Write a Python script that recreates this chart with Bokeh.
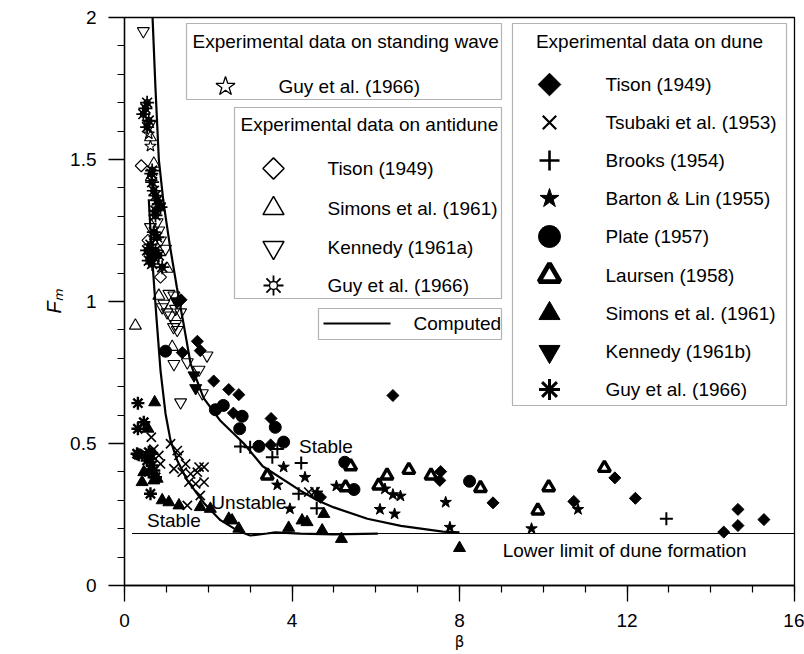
import math
from bokeh.plotting import figure
from bokeh.models import FixedTicker, Label, BoxAnnotation, Range1d, NumeralTickFormatter
from bokeh.embed import file_html
from bokeh.resources import INLINE

FONT = "Liberation Sans"

# ---------------- axes ----------------
X_RANGE = (0, 16)
Y_RANGE = (0, 2)
X_TICKS = [0, 4, 8, 12, 16]
X_MINOR = list(range(0, 17))
Y_TICKS = [0, 0.5, 1, 1.5, 2]
Y_MINOR = [round(0.1 * i, 1) for i in range(21)]
X_TITLE = "β"
Y_TITLE = "Fₘ"

# ---------------- computed curves ----------------
RIGHT_B = [0.67, 0.74, 0.82, 0.93, 1.08, 1.25, 1.40, 1.58, 1.89, 2.29, 2.85, 3.3, 4.2, 4.6, 5.0, 5.8, 6.6, 7.6, 8.0]
RIGHT_F = [2.0, 1.75, 1.5, 1.35, 1.2, 1.05, 0.93, 0.78, 0.66, 0.58, 0.50, 0.42, 0.334, 0.30, 0.275, 0.235, 0.21, 0.19, 0.187]
LEFT_B = [0.58, 0.64, 0.71, 0.77, 0.86, 0.98, 1.1, 1.26, 1.5, 1.9, 2.29, 2.69, 3.0, 3.4, 3.6, 4.2, 5.0, 6.05]
LEFT_F = [1.36, 1.2, 1.05, 0.93, 0.757, 0.605, 0.51, 0.44, 0.37, 0.29, 0.23, 0.194, 0.176, 0.183, 0.187, 0.183, 0.18, 0.183]
LOWER_LIMIT_B = [0.18, 16]
LOWER_LIMIT_F = [0.183, 0.183]

# ---------------- standing wave ----------------
GUY_S_B = [0.62, 0.58]
GUY_S_F = [1.547, 1.59]

# ---------------- antidune ----------------
TISON_A_B = [0.40, 0.56, 0.70, 0.86]
TISON_A_F = [1.478, 1.215, 1.170, 1.086]
SIMONS_A_B = [0.26, 0.62, 0.70, 0.64, 0.74, 1.02, 0.82, 1.14]
SIMONS_A_F = [0.915, 1.578, 1.485, 1.438, 1.23, 1.115, 1.02, 0.84]
KENNEDY_A_B = [0.45, 0.60, 0.78, 0.62, 0.82, 0.86, 0.98, 1.06, 1.18, 1.26, 0.94, 0.90, 1.02, 1.10, 1.22,
               1.34, 1.22, 1.17, 1.26, 1.97, 1.18, 1.50, 1.78, 1.86, 1.34]
KENNEDY_A_F = [1.952, 1.623, 1.279, 1.262, 1.25, 1.215, 1.186, 1.027, 1.021, 1.0, 0.992, 0.98, 0.962, 0.951, 0.921,
               0.962, 0.974, 0.91, 0.90, 0.81, 0.78, 0.786, 0.76, 0.677, 0.645]
GUY_A_B = [0.54, 0.50, 0.45, 0.58, 0.54, 0.66, 0.64, 0.66, 0.70, 0.74, 0.78, 0.82, 0.86, 0.74, 0.74, 0.70, 0.78,
           0.54, 0.62, 0.70, 0.58, 0.66, 0.74, 0.82, 0.90, 0.62]
GUY_A_F = [1.70, 1.68, 1.66, 1.637, 1.614, 1.461, 1.45, 1.42, 1.39, 1.373, 1.356, 1.344, 1.332, 1.32, 1.303, 1.244,
           1.226, 1.18, 1.168, 1.156, 1.144, 1.132, 1.18, 1.162, 1.121, 1.20]

# ---------------- dune ----------------
TISON_D_B = [1.35, 1.38, 1.74, 1.81, 2.13, 2.49, 2.73, 2.60, 3.50, 3.49, 4.68, 6.41, 7.55, 7.53, 8.8, 10.73, 11.71,
             12.2, 14.31, 14.65, 14.65, 15.27]
TISON_D_F = [1.006, 0.82, 0.86, 0.827, 0.72, 0.69, 0.672, 0.607, 0.588, 0.495, 0.311, 0.669, 0.401, 0.37, 0.291,
             0.296, 0.379, 0.307, 0.188, 0.268, 0.211, 0.232]
TSUBAKI_B = [0.64, 0.70, 0.82, 0.86, 1.10, 1.26, 1.30, 1.18, 1.46, 1.38, 1.58, 1.54, 1.74, 1.78, 1.90, 1.70, 1.90,
             1.81, 1.50, 4.40, 4.55]
TSUBAKI_F = [0.522, 0.48, 0.458, 0.428, 0.499, 0.475, 0.458, 0.411, 0.428, 0.399, 0.393, 0.364, 0.399, 0.417, 0.417,
             0.358, 0.364, 0.317, 0.282, 0.329, 0.33]
BROOKS_B = [2.77, 3.0, 3.65, 3.53, 4.22, 4.16, 4.59, 12.94]
BROOKS_F = [0.489, 0.487, 0.481, 0.452, 0.431, 0.323, 0.272, 0.235]
BARTON_B = [3.8, 4.31, 3.65, 3.95, 4.6, 5.06, 6.22, 6.41, 6.59, 6.1, 6.45, 7.67, 7.77, 9.72, 10.83]
BARTON_F = [0.417, 0.381, 0.354, 0.27, 0.326, 0.35, 0.34, 0.32, 0.315, 0.268, 0.252, 0.293, 0.205, 0.2, 0.268]
PLATE_B = [0.98, 2.17, 2.36, 2.81, 2.75, 3.21, 3.60, 3.80, 5.26, 5.48, 8.24]
PLATE_F = [0.825, 0.619, 0.634, 0.596, 0.552, 0.49, 0.557, 0.505, 0.434, 0.338, 0.367]
LAURSEN_B = [3.41, 5.4, 5.28, 6.07, 6.27, 6.79, 7.32, 8.5, 9.87, 10.13, 11.46]
LAURSEN_F = [0.387, 0.42, 0.346, 0.352, 0.387, 0.407, 0.387, 0.343, 0.264, 0.346, 0.414]
SIMONS_D_B = [0.72, 0.56, 0.46, 0.42, 0.70, 0.78, 0.90, 1.06, 1.30, 1.81, 2.05, 2.49, 2.57, 2.73, 3.92, 4.24, 4.36,
              4.72, 4.76, 5.18, 8.0]
SIMONS_D_F = [0.645, 0.552, 0.399, 0.364, 0.37, 0.376, 0.30, 0.293, 0.282, 0.276, 0.27, 0.235, 0.229, 0.2, 0.203,
              0.229, 0.223, 0.194, 0.252, 0.164, 0.132]
KENNEDY_B_B = [1.24, 1.66, 1.70]
KENNEDY_B_F = [1.0, 0.74, 0.695]
GUY_D_B = [0.32, 0.46, 0.32, 0.30, 0.58, 0.62, 0.66, 0.70, 0.74, 0.62, 0.54, 0.58, 0.34, 0.62]
GUY_D_F = [0.642, 0.575, 0.552, 0.464, 0.469, 0.446, 0.423, 0.405, 0.381, 0.323, 0.44, 0.40, 0.46, 0.464]

# ---------------- annotations ----------------
REGION_TEXTS = [("Stable", 4.81, 0.491), ("Unstable", 2.97, 0.294), ("Stable", 1.18, 0.229)]
LIMIT_TEXT = ("Lower limit of dune formation", 9.03, 0.123)

LEG_STAND_TITLE = "Experimental data on standing wave"
LEG_STAND_ITEMS = ["Guy et al. (1966)"]
LEG_ANTI_TITLE = "Experimental data on antidune"
LEG_ANTI_ITEMS = ["Tison (1949)", "Simons et al. (1961)", "Kennedy (1961a)", "Guy et al. (1966)"]
LEG_COMP = "Computed"
LEG_DUNE_TITLE = "Experimental data on dune"
LEG_DUNE_ITEMS = ["Tison (1949)", "Tsubaki et al. (1953)", "Brooks (1954)", "Barton & Lin (1955)", "Plate (1957)",
                  "Laursen (1958)", "Simons et al. (1961)", "Kennedy (1961b)", "Guy et al. (1966)"]

# ---------------- layout (page pixels of the frame) ----------------
W, H = 804, 654
FX0, FX1, FY0, FY1 = 124, 794, 585, 17


def bx(px):
    return X_RANGE[0] + (px - FX0) / (FX1 - FX0) * (X_RANGE[1] - X_RANGE[0])


def by(py):
    return Y_RANGE[0] + (FY0 - py) / (FY0 - FY1) * (Y_RANGE[1] - Y_RANGE[0])


p = figure(width=W, height=H, output_backend="svg", toolbar_location=None,
           x_range=Range1d(*X_RANGE), y_range=Range1d(*Y_RANGE),
           min_border_left=FX0, min_border_right=W - FX1, min_border_top=FY1, min_border_bottom=H - FY0)
p.grid.visible = False
p.outline_line_color = "black"
p.outline_line_width = 1.3
p.background_fill_color = "white"
p.border_fill_color = "white"

p.xaxis.ticker = FixedTicker(ticks=X_TICKS, minor_ticks=X_MINOR)
p.yaxis.ticker = FixedTicker(ticks=Y_TICKS, minor_ticks=Y_MINOR)
for ax in (p.xaxis, p.yaxis):
    ax.formatter = NumeralTickFormatter(format="0.[0]")
    ax.major_tick_out = 16
    ax.major_tick_in = 0
    ax.minor_tick_out = 7
    ax.minor_tick_in = 0
    ax.major_tick_line_width = 1.3
    ax.minor_tick_line_width = 1.2
    ax.axis_line_width = 1.3
    ax.axis_line_color = "black"
    ax.major_tick_line_color = "black"
    ax.minor_tick_line_color = "black"
    ax.major_label_text_font = FONT
    ax.major_label_text_font_size = "19px"
    ax.major_label_text_color = "black"
    ax.major_label_standoff = 12
    ax.axis_label_text_color = "black"

p.xaxis.axis_label = X_TITLE
p.xaxis.axis_label_text_font = "DejaVu Sans"
p.xaxis.axis_label_text_font_style = "normal"
p.xaxis.axis_label_text_font_size = "15px"
p.xaxis.axis_label_standoff = 3
p.yaxis.axis_label = Y_TITLE
p.yaxis.axis_label_text_font = FONT
p.yaxis.axis_label_text_font_style = "italic"
p.yaxis.axis_label_text_font_size = "20px"
p.yaxis.axis_label_standoff = 2

# curves
p.line(RIGHT_B, RIGHT_F, line_color="black", line_width=2.2)
p.line(LEFT_B, LEFT_F, line_color="black", line_width=2.2)
p.line(LOWER_LIMIT_B, LOWER_LIMIT_F, line_color="black", line_width=1)

K = "black"
# antidune (open)
p.scatter(TISON_A_B, TISON_A_F, marker="square", angle=math.pi / 4, size=8.5, fill_color=None, line_color=K, line_width=1.1)
p.scatter(SIMONS_A_B, SIMONS_A_F, marker="triangle", size=12, fill_color=None, line_color=K, line_width=1.1)
p.scatter(KENNEDY_A_B, KENNEDY_A_F, marker="inverted_triangle", size=12, fill_color=None, line_color=K, line_width=1.1)
p.scatter(GUY_A_B, GUY_A_F, marker="asterisk", size=14, line_color=K, line_width=1.7)
p.scatter(GUY_A_B, GUY_A_F, marker="circle", size=6, fill_color=None, line_color=K, line_width=1.3)
# standing wave
p.scatter(GUY_S_B, GUY_S_F, marker="star", size=12, fill_color=None, line_color=K, line_width=1.1)
# dune (filled)
p.scatter(TISON_D_B, TISON_D_F, marker="square", angle=math.pi / 4, size=8.5, fill_color=K, line_color=K)
p.scatter(TSUBAKI_B, TSUBAKI_F, marker="x", size=13, line_color=K, line_width=1.6)
p.scatter(BROOKS_B, BROOKS_F, marker="cross", size=13, line_color=K, line_width=2)
p.scatter(BARTON_B, BARTON_F, marker="star", size=12, fill_color=K, line_color=K)
p.scatter(PLATE_B, PLATE_F, marker="circle", size=12, fill_color=K, line_color=K)
p.scatter(LAURSEN_B, LAURSEN_F, marker="triangle", size=12, fill_color="white", line_color=K, line_width=3.4)
p.scatter(SIMONS_D_B, SIMONS_D_F, marker="triangle", size=12, fill_color=K, line_color=K)
p.scatter(KENNEDY_B_B, KENNEDY_B_F, marker="inverted_triangle", size=12, fill_color=K, line_color=K)
p.scatter(GUY_D_B, GUY_D_F, marker="asterisk", size=13, line_color=K, line_width=2.4)
p.scatter(GUY_D_B, GUY_D_F, marker="circle", size=5, fill_color=K, line_color=K)

# region texts
for txt, xv, yv in REGION_TEXTS:
    p.add_layout(Label(x=xv, y=yv, text=txt, text_font=FONT, text_font_size="19px",
                       text_align="center", text_baseline="middle", text_color=K))
p.add_layout(Label(x=LIMIT_TEXT[1], y=LIMIT_TEXT[2], text=LIMIT_TEXT[0], text_font=FONT,
                   text_font_size="19px", text_align="left", text_baseline="middle", text_color=K))


# ---------------- legends ----------------
def box(l, r, t, b):
    p.add_layout(BoxAnnotation(left=bx(l), right=bx(r), top=by(t), bottom=by(b), fill_color="white",
                               fill_alpha=1, line_color=K, line_width=1.2, level="underlay"))


def text(s, px, py, align="left"):
    p.add_layout(Label(x=bx(px), y=by(py), text=s, text_font=FONT, text_font_size="19px",
                       text_align=align, text_baseline="middle", text_color=K))


def key(px, py, **kw):
    p.scatter([bx(px)], [by(py)], line_color=K, **kw)


# standing wave
box(186, 501, 23, 99)
text(LEG_STAND_TITLE, 192, 41)
text(LEG_STAND_ITEMS[0], 278, 86)
key(225, 86, marker="star", size=20, fill_color=None, line_width=1.3)

# antidune
box(234, 501, 107, 298)
text(LEG_ANTI_TITLE, 240, 124)
ANTI_Y = [168, 208, 247, 285]
for s, yy in zip(LEG_ANTI_ITEMS, ANTI_Y):
    text(s, 327, yy)
key(273, ANTI_Y[0], marker="square", angle=math.pi / 4, size=15, fill_color=None, line_width=1.5)
key(273, ANTI_Y[1], marker="triangle", size=21, fill_color=None, line_width=1.5)
key(273, ANTI_Y[2], marker="inverted_triangle", size=21, fill_color=None, line_width=1.5)
key(273, ANTI_Y[3], marker="asterisk", size=20, line_width=1.8)
key(273, ANTI_Y[3], marker="circle", size=8, fill_color="white", line_width=1.4)

# computed
box(318, 501, 308, 339)
p.line([bx(323), bx(390)], [by(323), by(323)], line_color=K, line_width=2.2)
text(LEG_COMP, 413, 323)

# dune
box(512, 786, 23, 405)
text(LEG_DUNE_TITLE, 649, 41, align="center")
DUNE_Y = [84, 122, 160, 198, 236, 275, 313, 351, 389]
for s, yy in zip(LEG_DUNE_ITEMS, DUNE_Y):
    text(s, 605, yy)
DX = 549
key(DX, DUNE_Y[0], marker="square", angle=math.pi / 4, size=16, fill_color=K)
key(DX, DUNE_Y[1], marker="x", size=19, line_width=2.2)
key(DX, DUNE_Y[2], marker="cross", size=20, line_width=2.6)
key(DX, DUNE_Y[3], marker="star", size=20, fill_color=K)
key(DX, DUNE_Y[4], marker="circle", size=22, fill_color=K)
key(DX, DUNE_Y[5], marker="triangle", size=21, fill_color="white", line_width=4.8)
key(DX, DUNE_Y[6], marker="triangle", size=21, fill_color=K)
key(DX, DUNE_Y[7], marker="inverted_triangle", size=21, fill_color=K)
key(DX, DUNE_Y[8], marker="asterisk", size=21, line_width=3)
key(DX, DUNE_Y[8], marker="circle", size=7, fill_color=K)

open("out.html", "w").write(file_html(p, INLINE))
